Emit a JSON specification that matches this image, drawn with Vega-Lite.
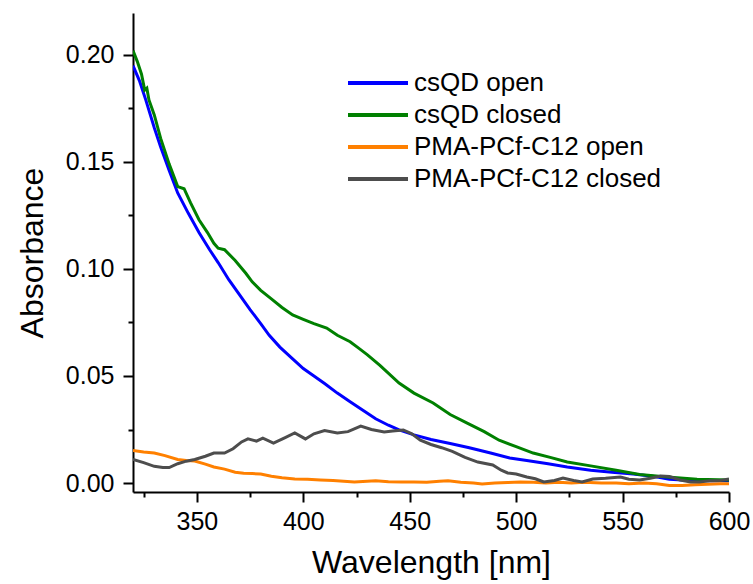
{
  "$schema": "https://vega.github.io/schema/vega-lite/v6.json",
  "width": 596,
  "height": 479,
  "autosize": {"type": "none"},
  "padding": {"left": 133, "top": 13, "right": 24, "bottom": 92},
  "background": "white",
  "config": {"view": {"stroke": null}, "font": "Liberation Sans"},
  "datasets": {
    "spectra": [
      {"series": "csQD open", "wl": 320, "abs": 0.195},
      {"series": "csQD open", "wl": 323, "abs": 0.188},
      {"series": "csQD open", "wl": 326, "abs": 0.179},
      {"series": "csQD open", "wl": 330, "abs": 0.166},
      {"series": "csQD open", "wl": 333, "abs": 0.157},
      {"series": "csQD open", "wl": 337, "abs": 0.146},
      {"series": "csQD open", "wl": 341, "abs": 0.1355},
      {"series": "csQD open", "wl": 346, "abs": 0.126},
      {"series": "csQD open", "wl": 351, "abs": 0.117},
      {"series": "csQD open", "wl": 356, "abs": 0.109},
      {"series": "csQD open", "wl": 360, "abs": 0.103},
      {"series": "csQD open", "wl": 365, "abs": 0.095},
      {"series": "csQD open", "wl": 370, "abs": 0.088},
      {"series": "csQD open", "wl": 375, "abs": 0.081},
      {"series": "csQD open", "wl": 380, "abs": 0.0745},
      {"series": "csQD open", "wl": 384, "abs": 0.069},
      {"series": "csQD open", "wl": 389, "abs": 0.0635},
      {"series": "csQD open", "wl": 395, "abs": 0.058},
      {"series": "csQD open", "wl": 400, "abs": 0.0535},
      {"series": "csQD open", "wl": 405, "abs": 0.050},
      {"series": "csQD open", "wl": 410, "abs": 0.0465},
      {"series": "csQD open", "wl": 416, "abs": 0.042},
      {"series": "csQD open", "wl": 422, "abs": 0.038},
      {"series": "csQD open", "wl": 428, "abs": 0.034},
      {"series": "csQD open", "wl": 434, "abs": 0.030},
      {"series": "csQD open", "wl": 440, "abs": 0.027},
      {"series": "csQD open", "wl": 445, "abs": 0.0248},
      {"series": "csQD open", "wl": 452, "abs": 0.0225},
      {"series": "csQD open", "wl": 460, "abs": 0.0203},
      {"series": "csQD open", "wl": 469, "abs": 0.0185},
      {"series": "csQD open", "wl": 478, "abs": 0.0165},
      {"series": "csQD open", "wl": 488, "abs": 0.014},
      {"series": "csQD open", "wl": 497, "abs": 0.0117},
      {"series": "csQD open", "wl": 505, "abs": 0.0105},
      {"series": "csQD open", "wl": 515, "abs": 0.009},
      {"series": "csQD open", "wl": 524, "abs": 0.0075},
      {"series": "csQD open", "wl": 535, "abs": 0.006},
      {"series": "csQD open", "wl": 545, "abs": 0.005},
      {"series": "csQD open", "wl": 555, "abs": 0.0042},
      {"series": "csQD open", "wl": 565, "abs": 0.003},
      {"series": "csQD open", "wl": 572, "abs": 0.0018},
      {"series": "csQD open", "wl": 578, "abs": 0.0014},
      {"series": "csQD open", "wl": 585, "abs": 0.0012},
      {"series": "csQD open", "wl": 592, "abs": 0.0010},
      {"series": "csQD open", "wl": 600, "abs": 0.0010},

      {"series": "csQD closed", "wl": 320, "abs": 0.202},
      {"series": "csQD closed", "wl": 322, "abs": 0.197},
      {"series": "csQD closed", "wl": 324, "abs": 0.191},
      {"series": "csQD closed", "wl": 325.5, "abs": 0.1836},
      {"series": "csQD closed", "wl": 326.5, "abs": 0.1845},
      {"series": "csQD closed", "wl": 327.5, "abs": 0.179},
      {"series": "csQD closed", "wl": 330, "abs": 0.172},
      {"series": "csQD closed", "wl": 333, "abs": 0.161},
      {"series": "csQD closed", "wl": 337, "abs": 0.149},
      {"series": "csQD closed", "wl": 341, "abs": 0.1385},
      {"series": "csQD closed", "wl": 344, "abs": 0.1375},
      {"series": "csQD closed", "wl": 347, "abs": 0.131},
      {"series": "csQD closed", "wl": 351, "abs": 0.123},
      {"series": "csQD closed", "wl": 355, "abs": 0.117},
      {"series": "csQD closed", "wl": 358, "abs": 0.112},
      {"series": "csQD closed", "wl": 360, "abs": 0.1097},
      {"series": "csQD closed", "wl": 363, "abs": 0.109},
      {"series": "csQD closed", "wl": 368, "abs": 0.104},
      {"series": "csQD closed", "wl": 373, "abs": 0.098},
      {"series": "csQD closed", "wl": 376, "abs": 0.094},
      {"series": "csQD closed", "wl": 380, "abs": 0.090},
      {"series": "csQD closed", "wl": 385, "abs": 0.086},
      {"series": "csQD closed", "wl": 390, "abs": 0.082},
      {"series": "csQD closed", "wl": 395, "abs": 0.0785},
      {"series": "csQD closed", "wl": 400, "abs": 0.0765},
      {"series": "csQD closed", "wl": 405, "abs": 0.0745},
      {"series": "csQD closed", "wl": 411, "abs": 0.0724},
      {"series": "csQD closed", "wl": 416, "abs": 0.069},
      {"series": "csQD closed", "wl": 422, "abs": 0.066},
      {"series": "csQD closed", "wl": 426, "abs": 0.063},
      {"series": "csQD closed", "wl": 430, "abs": 0.060},
      {"series": "csQD closed", "wl": 436, "abs": 0.055},
      {"series": "csQD closed", "wl": 445, "abs": 0.0467},
      {"series": "csQD closed", "wl": 452, "abs": 0.042},
      {"series": "csQD closed", "wl": 461, "abs": 0.0374},
      {"series": "csQD closed", "wl": 469, "abs": 0.032},
      {"series": "csQD closed", "wl": 477, "abs": 0.028},
      {"series": "csQD closed", "wl": 485, "abs": 0.024},
      {"series": "csQD closed", "wl": 492, "abs": 0.020},
      {"series": "csQD closed", "wl": 500, "abs": 0.017},
      {"series": "csQD closed", "wl": 508, "abs": 0.014},
      {"series": "csQD closed", "wl": 516, "abs": 0.012},
      {"series": "csQD closed", "wl": 524, "abs": 0.0098},
      {"series": "csQD closed", "wl": 535, "abs": 0.008},
      {"series": "csQD closed", "wl": 547, "abs": 0.006},
      {"series": "csQD closed", "wl": 558, "abs": 0.004},
      {"series": "csQD closed", "wl": 571, "abs": 0.0028},
      {"series": "csQD closed", "wl": 585, "abs": 0.0018},
      {"series": "csQD closed", "wl": 600, "abs": 0.0014},

      {"series": "PMA-PCf-C12 open", "wl": 320, "abs": 0.0152},
      {"series": "PMA-PCf-C12 open", "wl": 325, "abs": 0.0145},
      {"series": "PMA-PCf-C12 open", "wl": 330, "abs": 0.014},
      {"series": "PMA-PCf-C12 open", "wl": 335, "abs": 0.0128},
      {"series": "PMA-PCf-C12 open", "wl": 341, "abs": 0.011},
      {"series": "PMA-PCf-C12 open", "wl": 345, "abs": 0.0105},
      {"series": "PMA-PCf-C12 open", "wl": 349, "abs": 0.0103},
      {"series": "PMA-PCf-C12 open", "wl": 354, "abs": 0.0088},
      {"series": "PMA-PCf-C12 open", "wl": 358, "abs": 0.0075},
      {"series": "PMA-PCf-C12 open", "wl": 363, "abs": 0.0065},
      {"series": "PMA-PCf-C12 open", "wl": 368, "abs": 0.005},
      {"series": "PMA-PCf-C12 open", "wl": 372, "abs": 0.0046},
      {"series": "PMA-PCf-C12 open", "wl": 376, "abs": 0.0044},
      {"series": "PMA-PCf-C12 open", "wl": 380, "abs": 0.0042},
      {"series": "PMA-PCf-C12 open", "wl": 385, "abs": 0.0032},
      {"series": "PMA-PCf-C12 open", "wl": 390, "abs": 0.0025},
      {"series": "PMA-PCf-C12 open", "wl": 396, "abs": 0.0019},
      {"series": "PMA-PCf-C12 open", "wl": 402, "abs": 0.0017},
      {"series": "PMA-PCf-C12 open", "wl": 408, "abs": 0.0014},
      {"series": "PMA-PCf-C12 open", "wl": 414, "abs": 0.0012},
      {"series": "PMA-PCf-C12 open", "wl": 419, "abs": 0.0008},
      {"series": "PMA-PCf-C12 open", "wl": 424, "abs": 0.0005},
      {"series": "PMA-PCf-C12 open", "wl": 430, "abs": 0.0008},
      {"series": "PMA-PCf-C12 open", "wl": 434, "abs": 0.0010},
      {"series": "PMA-PCf-C12 open", "wl": 440, "abs": 0.0006},
      {"series": "PMA-PCf-C12 open", "wl": 446, "abs": 0.0005},
      {"series": "PMA-PCf-C12 open", "wl": 452, "abs": 0.0005},
      {"series": "PMA-PCf-C12 open", "wl": 458, "abs": 0.0004},
      {"series": "PMA-PCf-C12 open", "wl": 464, "abs": 0.0008},
      {"series": "PMA-PCf-C12 open", "wl": 468, "abs": 0.0010},
      {"series": "PMA-PCf-C12 open", "wl": 474, "abs": 0.0004},
      {"series": "PMA-PCf-C12 open", "wl": 480, "abs": 0.0},
      {"series": "PMA-PCf-C12 open", "wl": 484, "abs": -0.0005},
      {"series": "PMA-PCf-C12 open", "wl": 490, "abs": 0.0},
      {"series": "PMA-PCf-C12 open", "wl": 496, "abs": 0.0002},
      {"series": "PMA-PCf-C12 open", "wl": 502, "abs": 0.0005},
      {"series": "PMA-PCf-C12 open", "wl": 508, "abs": 0.0003},
      {"series": "PMA-PCf-C12 open", "wl": 514, "abs": 0.0},
      {"series": "PMA-PCf-C12 open", "wl": 520, "abs": 0.0003},
      {"series": "PMA-PCf-C12 open", "wl": 526, "abs": 0.0},
      {"series": "PMA-PCf-C12 open", "wl": 532, "abs": 0.0003},
      {"series": "PMA-PCf-C12 open", "wl": 540, "abs": 0.0},
      {"series": "PMA-PCf-C12 open", "wl": 547, "abs": 0.0},
      {"series": "PMA-PCf-C12 open", "wl": 553, "abs": -0.0004},
      {"series": "PMA-PCf-C12 open", "wl": 560, "abs": 0.0},
      {"series": "PMA-PCf-C12 open", "wl": 566, "abs": -0.0003},
      {"series": "PMA-PCf-C12 open", "wl": 572, "abs": -0.0012},
      {"series": "PMA-PCf-C12 open", "wl": 578, "abs": -0.0012},
      {"series": "PMA-PCf-C12 open", "wl": 584, "abs": -0.0008},
      {"series": "PMA-PCf-C12 open", "wl": 590, "abs": -0.0006},
      {"series": "PMA-PCf-C12 open", "wl": 596, "abs": -0.0004},
      {"series": "PMA-PCf-C12 open", "wl": 600, "abs": -0.0003},

      {"series": "PMA-PCf-C12 closed", "wl": 320, "abs": 0.011},
      {"series": "PMA-PCf-C12 closed", "wl": 325, "abs": 0.0095},
      {"series": "PMA-PCf-C12 closed", "wl": 330, "abs": 0.0078},
      {"series": "PMA-PCf-C12 closed", "wl": 334, "abs": 0.0072},
      {"series": "PMA-PCf-C12 closed", "wl": 337, "abs": 0.0072},
      {"series": "PMA-PCf-C12 closed", "wl": 341, "abs": 0.009},
      {"series": "PMA-PCf-C12 closed", "wl": 345, "abs": 0.0102},
      {"series": "PMA-PCf-C12 closed", "wl": 349, "abs": 0.011},
      {"series": "PMA-PCf-C12 closed", "wl": 354, "abs": 0.0125},
      {"series": "PMA-PCf-C12 closed", "wl": 358, "abs": 0.014},
      {"series": "PMA-PCf-C12 closed", "wl": 363, "abs": 0.014},
      {"series": "PMA-PCf-C12 closed", "wl": 367, "abs": 0.016},
      {"series": "PMA-PCf-C12 closed", "wl": 371, "abs": 0.0192},
      {"series": "PMA-PCf-C12 closed", "wl": 374, "abs": 0.0206},
      {"series": "PMA-PCf-C12 closed", "wl": 378, "abs": 0.0196},
      {"series": "PMA-PCf-C12 closed", "wl": 381, "abs": 0.021},
      {"series": "PMA-PCf-C12 closed", "wl": 386, "abs": 0.0187},
      {"series": "PMA-PCf-C12 closed", "wl": 391, "abs": 0.021},
      {"series": "PMA-PCf-C12 closed", "wl": 396, "abs": 0.0234},
      {"series": "PMA-PCf-C12 closed", "wl": 401, "abs": 0.0206},
      {"series": "PMA-PCf-C12 closed", "wl": 405, "abs": 0.023},
      {"series": "PMA-PCf-C12 closed", "wl": 410, "abs": 0.0245},
      {"series": "PMA-PCf-C12 closed", "wl": 416, "abs": 0.0234},
      {"series": "PMA-PCf-C12 closed", "wl": 421, "abs": 0.024},
      {"series": "PMA-PCf-C12 closed", "wl": 427, "abs": 0.0266},
      {"series": "PMA-PCf-C12 closed", "wl": 432, "abs": 0.025},
      {"series": "PMA-PCf-C12 closed", "wl": 438, "abs": 0.0238},
      {"series": "PMA-PCf-C12 closed", "wl": 442, "abs": 0.0243},
      {"series": "PMA-PCf-C12 closed", "wl": 447, "abs": 0.0248},
      {"series": "PMA-PCf-C12 closed", "wl": 451, "abs": 0.023},
      {"series": "PMA-PCf-C12 closed", "wl": 455, "abs": 0.020},
      {"series": "PMA-PCf-C12 closed", "wl": 460, "abs": 0.018},
      {"series": "PMA-PCf-C12 closed", "wl": 465, "abs": 0.0165},
      {"series": "PMA-PCf-C12 closed", "wl": 470, "abs": 0.0148},
      {"series": "PMA-PCf-C12 closed", "wl": 476, "abs": 0.012},
      {"series": "PMA-PCf-C12 closed", "wl": 482, "abs": 0.0098},
      {"series": "PMA-PCf-C12 closed", "wl": 489, "abs": 0.0084},
      {"series": "PMA-PCf-C12 closed", "wl": 493, "abs": 0.006},
      {"series": "PMA-PCf-C12 closed", "wl": 496, "abs": 0.0047},
      {"series": "PMA-PCf-C12 closed", "wl": 500, "abs": 0.0042},
      {"series": "PMA-PCf-C12 closed", "wl": 505, "abs": 0.0028},
      {"series": "PMA-PCf-C12 closed", "wl": 509, "abs": 0.002},
      {"series": "PMA-PCf-C12 closed", "wl": 513, "abs": 0.0005},
      {"series": "PMA-PCf-C12 closed", "wl": 518, "abs": 0.0012},
      {"series": "PMA-PCf-C12 closed", "wl": 522, "abs": 0.0023},
      {"series": "PMA-PCf-C12 closed", "wl": 527, "abs": 0.0012},
      {"series": "PMA-PCf-C12 closed", "wl": 531, "abs": 0.0005},
      {"series": "PMA-PCf-C12 closed", "wl": 536, "abs": 0.0019},
      {"series": "PMA-PCf-C12 closed", "wl": 542, "abs": 0.0022},
      {"series": "PMA-PCf-C12 closed", "wl": 549, "abs": 0.0028},
      {"series": "PMA-PCf-C12 closed", "wl": 553, "abs": 0.0018},
      {"series": "PMA-PCf-C12 closed", "wl": 558, "abs": 0.0014},
      {"series": "PMA-PCf-C12 closed", "wl": 563, "abs": 0.0022},
      {"series": "PMA-PCf-C12 closed", "wl": 568, "abs": 0.0033},
      {"series": "PMA-PCf-C12 closed", "wl": 572, "abs": 0.003},
      {"series": "PMA-PCf-C12 closed", "wl": 577, "abs": 0.0014},
      {"series": "PMA-PCf-C12 closed", "wl": 582, "abs": 0.0005},
      {"series": "PMA-PCf-C12 closed", "wl": 586, "abs": 0.0005},
      {"series": "PMA-PCf-C12 closed", "wl": 591, "abs": 0.0010},
      {"series": "PMA-PCf-C12 closed", "wl": 596, "abs": 0.0012},
      {"series": "PMA-PCf-C12 closed", "wl": 600, "abs": 0.0019}
    ]
  },
  "data": {"name": "spectra"},
  "mark": {"type": "line", "strokeWidth": 3, "clip": true},
  "encoding": {
    "x": {
      "field": "wl",
      "type": "quantitative",
      "scale": {"domain": [320, 600], "nice": false, "zero": false},
      "axis": {
        "title": "Wavelength [nm]",
        "values": [325, 350, 375, 400, 425, 450, 475, 500, 525, 550, 575, 600],
        "labelExpr": "datum.value % 50 === 0 ? datum.label : ''",
        "tickSize": {"condition": {"test": "datum.value % 50 === 0", "value": 10}, "value": 5},
        "grid": false,
        "domainColor": "black",
        "domainWidth": 2,
        "tickColor": "black",
        "tickWidth": 2,
        "labelFontSize": 25,
        "labelColor": "black",
        "labelPadding": 7,
        "labelFlush": false,
        "labelOverlap": false,
        "titleFontSize": 32,
        "titleFontWeight": "normal",
        "titleColor": "black",
        "titlePadding": 13
      }
    },
    "y": {
      "field": "abs",
      "type": "quantitative",
      "scale": {"domain": [-0.0042, 0.2196], "nice": false, "zero": false},
      "axis": {
        "title": "Absorbance",
        "values": [0, 0.025, 0.05, 0.075, 0.1, 0.125, 0.15, 0.175, 0.2],
        "format": ".2f",
        "labelExpr": "round(datum.value * 1000) % 50 === 0 ? datum.label : ''",
        "tickSize": {"condition": {"test": "round(datum.value * 1000) % 50 === 0", "value": 10}, "value": 5},
        "grid": false,
        "domainColor": "black",
        "domainWidth": 2,
        "tickColor": "black",
        "tickWidth": 2,
        "labelFontSize": 25,
        "labelColor": "black",
        "labelPadding": 9,
        "labelFlush": false,
        "labelOverlap": false,
        "titleFontSize": 32,
        "titleFontWeight": "normal",
        "titleColor": "black",
        "titlePadding": 16
      }
    },
    "color": {
      "field": "series",
      "type": "nominal",
      "scale": {
        "domain": ["csQD open", "csQD closed", "PMA-PCf-C12 open", "PMA-PCf-C12 closed"],
        "range": ["#0000ff", "#008000", "#ff8000", "#4d4d4d"]
      },
      "legend": {
        "orient": "none",
        "legendX": 232,
        "legendY": 57,
        "title": null,
        "symbolType": "M-3,0H3",
        "symbolSize": 400,
        "symbolStrokeWidth": 4,
        "labelFontSize": 26,
        "labelColor": "black",
        "labelOffset": 23,
        "rowPadding": 6,
        "padding": 0,
        "labelLimit": 400
      }
    }
  }
}
